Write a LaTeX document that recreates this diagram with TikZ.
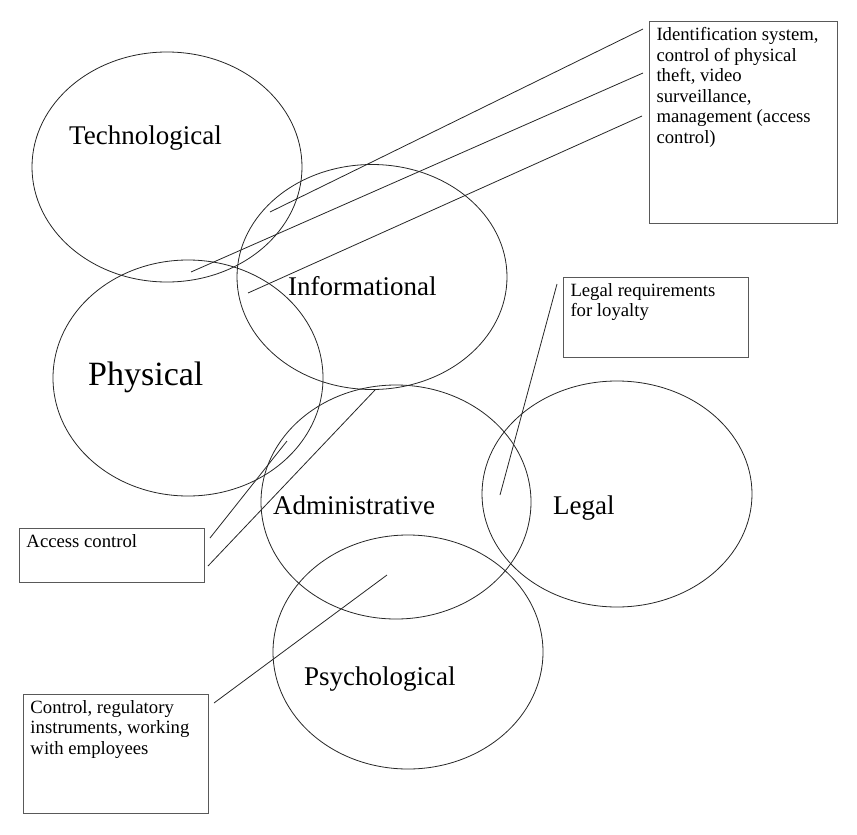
\documentclass[tikz,border=0pt]{standalone}
\usepackage{fontspec}
\setmainfont{Liberation Serif}
\usetikzlibrary{calc,shapes.geometric}

\begin{document}
\begin{tikzpicture}[
    x=1pt, y=-1pt,
    area/.style={draw=black!85, line width=0.8pt, ellipse, inner sep=0pt, minimum width=270pt, minimum height=230pt},
    arealabel/.style={anchor=base west, inner sep=0pt, font=\fontsize{27}{30}\selectfont},
    notebox/.style={draw=black!65, line width=1pt, anchor=north west, inner xsep=7pt, inner ysep=6pt, font=\fontsize{18.7}{20.5}\selectfont},
    noteline/.style={black!85, line width=0.8pt}
  ]
  \useasboundingbox (0,0) rectangle (857,835);
  % spheres of security
  \node[area, minimum height=230pt] (tech) at (167,167) {};
  \node[area, minimum height=236pt] (phys) at (188,378) {};
  \node[area, minimum height=225pt] (info) at (372,277) {};
  \node[area, minimum height=234pt] (admin) at (396,502) {};
  \node[area, minimum height=226pt] (legal) at (617,494) {};
  \node[area, minimum height=234pt] (psych) at (408,652) {};
  \node[arealabel] (techlbl) at (69,144) {Technological};
  \node[arealabel, font=\fontsize{34}{38}\selectfont] (physlbl) at (88,385) {Physical};
  \node[arealabel] (infolbl) at (288,295) {Informational};
  \node[arealabel] (adminlbl) at (273,514) {Administrative};
  \node[arealabel] (legallbl) at (553,514) {Legal};
  \node[arealabel] (psychlbl) at (304,685) {Psychological};
  % notes
  \node[notebox] (idbox) at (649,21) {\parbox[c][190pt][t]{174pt}{\raggedright Identification system,\\ control of physical\\ theft, video\\ surveillance,\\ management (access\\ control)}};
  \node[notebox] (legalbox) at (563,277) {\parbox[c][68pt][t]{171pt}{\raggedright Legal requirements\\ for loyalty}};
  \node[notebox] (accbox) at (19,528) {\parbox[c][42pt][t]{171pt}{\raggedright Access control}};
  \node[notebox] (ctrlbox) at (23,694) {\parbox[c][107pt][t]{171pt}{\raggedright Control, regulatory\\ instruments, working\\ with employees}};
  % connector ends
  \coordinate (idA) at ($(idbox.north west)+(-6,8)$);
  \coordinate (idB) at ($(idbox.north west)+(-6,52)$);
  \coordinate (idC) at ($(idbox.north west)+(-7,95)$);
  \coordinate (techend) at (270,212);
  \coordinate (physend) at (191,272);
  \coordinate (infoend) at (248,293);
  \coordinate (legalA) at ($(legalbox.north west)+(-6,7)$);
  \coordinate (legalend) at (500,495);
  \coordinate (accA) at ($(accbox.north east)+(5,10)$);
  \coordinate (accB) at ($(accbox.north east)+(3,38)$);
  \coordinate (physadm) at (287,441);
  \coordinate (infoadm) at (375,390);
  \coordinate (ctrlA) at ($(ctrlbox.north east)+(5,9)$);
  \coordinate (psychend) at (387,575);
  \draw[noteline] (idA) -- (techend);
  \draw[noteline] (idB) -- (physend);
  \draw[noteline] (idC) -- (infoend);
  \draw[noteline] (legalA) -- (legalend);
  \draw[noteline] (accA) -- (physadm);
  \draw[noteline] (accB) -- (infoadm);
  \draw[noteline] (ctrlA) -- (psychend);
\end{tikzpicture}
\end{document}
